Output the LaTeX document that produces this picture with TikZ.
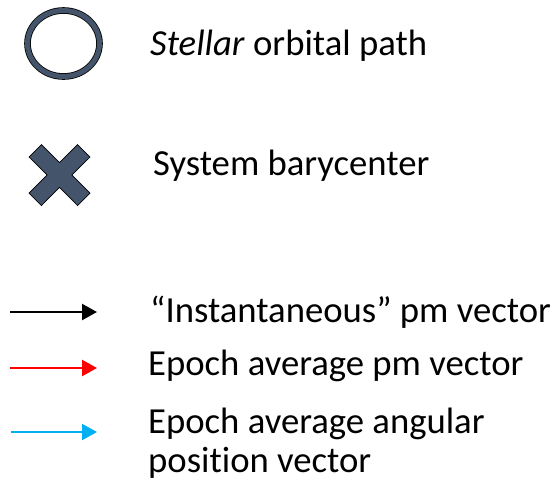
\documentclass[tikz,border=0pt]{standalone}
\usepackage{fontspec}
\setmainfont[Ligatures=NoCommon]{Carlito}
\usetikzlibrary{arrows.meta,positioning,shapes.geometric}
\definecolor{keyslate}{HTML}{44546A}
\definecolor{keyred}{HTML}{FF0000}
\definecolor{keyblue}{HTML}{00B0F0}

\begin{document}
\begin{tikzpicture}[x=1pt, y=-1pt, font=\fontsize{36.7}{39}\selectfont, >={Triangle[length=15pt,width=16pt]}]
  \tikzstyle{orbit}=[ellipse,draw=black,line width=0.8pt,double=keyslate,double distance=5pt,minimum width=72pt,minimum height=66pt,inner sep=0pt]
  \tikzstyle{lbl}=[anchor=base west,inner sep=0pt]
  \tikzstyle{vec}=[line width=2.2pt]
  \useasboundingbox (0,0) rectangle (556,483);
  % orbit and barycenter symbols
  \node[orbit] (orbit) at (63.5,43.5) {};
  \node[lbl] (orbitlbl) at (150,55) {\textit{Stellar} orbital path};
  \coordinate (bary) at (59.5,175);
  \begin{scope}[shift={(bary)}]
    \filldraw[fill=keyslate,draw=black,line width=0.7pt]
      (0,-12.4) -- (18,-30.5) -- (30.5,-18) -- (12.4,0) -- (30.5,18) -- (18,30.5)
      -- (0,12.4) -- (-18,30.5) -- (-30.5,18) -- (-12.4,0) -- (-30.5,-18) -- (-18,-30.5) -- cycle;
  \end{scope}
  \node[lbl] (barylbl) at (153,175) {System barycenter};
  % vectors
  \coordinate (inst0) at (10,312);
  \coordinate (inst1) at (97,312);
  \coordinate (pm0) at (10,368);
  \coordinate (pm1) at (97,368);
  \coordinate (ang0) at (11,432);
  \coordinate (ang1) at (97,432);
  \draw[vec,->] (inst0) -- (inst1);
  \draw[vec,->,keyred] (pm0) -- (pm1);
  \draw[vec,->,keyblue] (ang0) -- (ang1);
  \node[lbl] (instlbl) at (150,322) {“Instantaneous” pm vector};
  \node[lbl] (pmlbl) at (148,375) {Epoch average pm vector};
  % base of a two-line node is its last line
  \node[lbl,align=left] (anglbl) at (148,472) {Epoch average angular\\position vector};
\end{tikzpicture}
\end{document}
